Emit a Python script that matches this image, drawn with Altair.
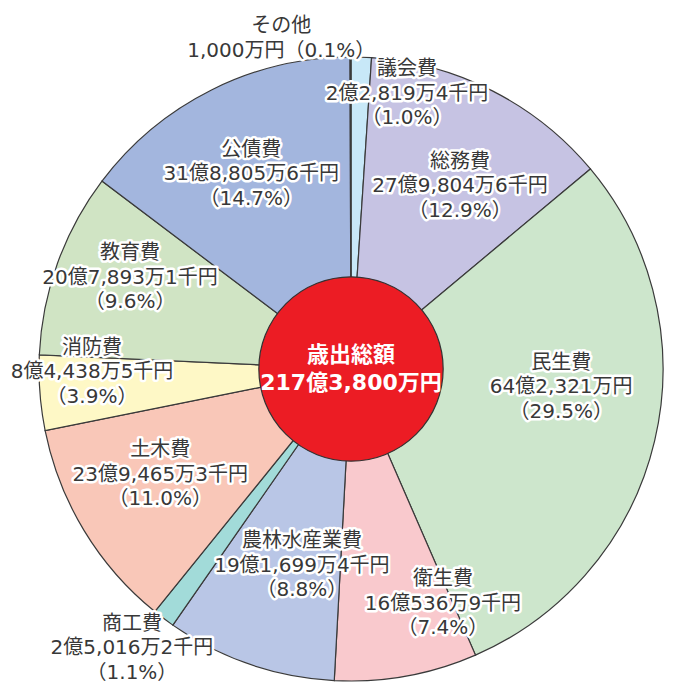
import math
import altair as alt
import pandas as pd

# ---- data ----
categories = ["議会費", "総務費", "民生費", "衛生費", "農林水産業費", "商工費",
              "土木費", "消防費", "教育費", "公債費", "その他"]
# amounts in 万円
amounts = [22819.4, 279804.6, 642321.0, 160536.9, 191699.4, 25016.2,
           239465.3, 84438.5, 207893.1, 318805.6, 1000.0]
amount_labels = ["2億2,819万4千円", "27億9,804万6千円", "64億2,321万円", "16億536万9千円",
                 "19億1,699万4千円", "2億5,016万2千円", "23億9,465万3千円", "8億4,438万5千円",
                 "20億7,893万1千円", "31億8,805万6千円", "1,000万円"]
percents = ["1.0", "12.9", "29.5", "7.4", "8.8", "1.1", "11.0", "3.9", "9.6", "14.7", "0.1"]
colors = ["#c8e8f8", "#c6c3e3", "#cde6cc", "#f9c9cd", "#b9c6e6", "#a2dbd9",
          "#f9c7b8", "#fef8c6", "#d0e4c4", "#a3b6de", "#f0a0a0"]
# label placement (polar: degrees clockwise from north, pixels from centre)
label_angle = [11.5, 30.8, 94.9, 158.6, 194.0, 218.1, 241.0, 269.3, 292.4, 332.9, 348.1]
label_radius = [281, 213, 211, 252, 203, 355, 218, 259, 239, 219, 338]

center_title = "歳出総額"
center_total = "217億3,800万円"

# ---- layout ----
CX, CY = 343, 361
R_OUT = 312
R_IN = 104
FONT = "DejaVu Sans, Noto Sans CJK JP"
CFONT = "DejaVu Sans, Noto Sans CJK JP"
LH = 24.5

texts = []
nlines = []
for c, a, p in zip(categories, amount_labels, percents):
    if c == "その他":
        texts.append([c, f"{a}（{p}%）"])
    else:
        texts.append([c, a, f"（{p}%）"])
    nlines.append(len(texts[-1]))

df = pd.DataFrame({
    "cat": categories,
    "value": amounts,
    "idx": list(range(len(categories))),
    "label": texts,
    "n": nlines,
    "la": label_angle,
    "lr": label_radius,
})

color_scale = alt.Scale(domain=categories, range=colors)

pie = alt.Chart(df).mark_arc(
    outerRadius=R_OUT, stroke="#3a3a3a", strokeWidth=1.2
).encode(
    theta=alt.Theta("value:Q", stack=True),
    order=alt.Order("idx:Q"),
    color=alt.Color("cat:N", scale=color_scale, legend=None),
    x=alt.value(CX),
    y=alt.value(CY),
)

theta_lbl = alt.Theta("la:Q", stack=False,
                      scale=alt.Scale(domain=[0, 360], range=[0, 2 * math.pi]))


def text_layers(n):
    dy = -(n - 1) * LH / 2
    enc = dict(
        theta=theta_lbl,
        radius=alt.Radius("lr:Q", scale=None),
        text="label",
        x=alt.value(CX),
        y=alt.value(CY),
    )
    base = alt.Chart(df).transform_filter(alt.datum.n == n)
    halo = base.mark_text(
        font=FONT, fontSize=20, lineHeight=LH, align="center", baseline="middle",
        dy=dy, fill="white", stroke="white", strokeWidth=5, strokeJoin="round"
    ).encode(**enc)
    lab = base.mark_text(
        font=FONT, fontSize=20, lineHeight=LH, align="center", baseline="middle",
        dy=dy, color="#383838"
    ).encode(**enc)
    return [halo, lab]


cdf = pd.DataFrame({"t": [[center_title, center_total]]})

circle = alt.Chart(cdf).mark_circle(
    size=math.pi * R_IN ** 2, color="#ec1c24", opacity=1,
    stroke="#333333", strokeWidth=1.2
).encode(x=alt.value(CX), y=alt.value(CY))

ctext = alt.Chart(cdf).mark_text(
    font=CFONT, fontSize=22, fontWeight="bold", lineHeight=28, dy=-14,
    align="center", baseline="middle", color="white"
).encode(text="t", x=alt.value(CX), y=alt.value(CY))

chart = alt.layer(pie, *text_layers(3), *text_layers(2), circle, ctext).resolve_scale(
    theta="independent"
).properties(
    width=668, height=681, autosize=alt.AutoSizeParams(type="none"), padding=0
).configure_view(stroke=None)

chart.save("out.html", embed_options={"renderer": "svg", "actions": False})
